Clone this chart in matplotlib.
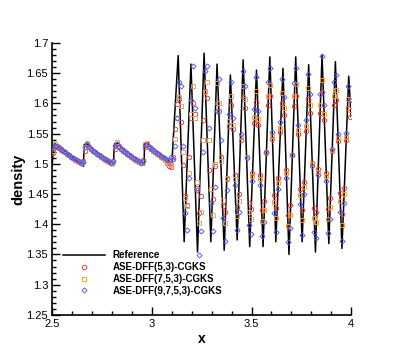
import matplotlib.pyplot as plt
from matplotlib.ticker import MultipleLocator, FuncFormatter

plt.rcParams['font.family'] = ['Liberation Sans', 'DejaVu Sans']

# reference solution: sawtooth corners, then peaks / troughs of the wave train
ref_x = [2.500, 2.506, 2.515, 2.657, 2.659, 2.670, 2.808, 2.810, 2.822,
         2.961, 2.963, 2.975, 3.100,
         3.132, 3.162, 3.196, 3.229, 3.262, 3.296, 3.327, 3.363, 3.394, 3.428,
         3.458, 3.491, 3.525, 3.558, 3.592, 3.622, 3.658, 3.688, 3.722, 3.754,
         3.787, 3.821, 3.854, 3.888, 3.921, 3.954, 3.988, 4.000]
ref_rho = [1.498, 1.532, 1.533, 1.496, 1.531, 1.534, 1.497, 1.532, 1.535,
           1.498, 1.533, 1.535, 1.500,
           1.679, 1.371, 1.665, 1.354, 1.683, 1.371, 1.665, 1.357, 1.647, 1.374,
           1.672, 1.363, 1.655, 1.363, 1.677, 1.371, 1.658, 1.350, 1.677, 1.371,
           1.664, 1.354, 1.680, 1.368, 1.669, 1.360, 1.645, 1.578]

# cell centres
x_cells = [2.505, 2.515, 2.525, 2.535, 2.545, 2.555, 2.565, 2.575, 2.585, 2.595,
           2.605, 2.615, 2.625, 2.635, 2.645, 2.655, 2.665, 2.675, 2.685, 2.695,
           2.705, 2.715, 2.725, 2.735, 2.745, 2.755, 2.765, 2.775, 2.785, 2.795,
           2.805, 2.815, 2.825, 2.835, 2.845, 2.855, 2.865, 2.875, 2.885, 2.895,
           2.905, 2.915, 2.925, 2.935, 2.945, 2.955, 2.965, 2.975, 2.985, 2.995,
           3.005, 3.015, 3.025, 3.035, 3.045, 3.055, 3.065, 3.075, 3.085, 3.095,
           3.105, 3.115, 3.125, 3.135, 3.145, 3.155, 3.165, 3.175, 3.185, 3.195,
           3.205, 3.215, 3.225, 3.235, 3.245, 3.255, 3.265, 3.275, 3.285, 3.295,
           3.305, 3.315, 3.325, 3.335, 3.345, 3.355, 3.365, 3.375, 3.385, 3.395,
           3.405, 3.415, 3.425, 3.435, 3.445, 3.455, 3.465, 3.475, 3.485, 3.495,
           3.505, 3.515, 3.525, 3.535, 3.545, 3.555, 3.565, 3.575, 3.585, 3.595,
           3.605, 3.615, 3.625, 3.635, 3.645, 3.655, 3.665, 3.675, 3.685, 3.695,
           3.705, 3.715, 3.725, 3.735, 3.745, 3.755, 3.765, 3.775, 3.785, 3.795,
           3.805, 3.815, 3.825, 3.835, 3.845, 3.855, 3.865, 3.875, 3.885, 3.895,
           3.905, 3.915, 3.925, 3.935, 3.945, 3.955, 3.965, 3.975, 3.985, 3.995]

rho_53 = [1.518, 1.527, 1.528, 1.526, 1.523, 1.521, 1.519, 1.517, 1.514, 1.512,
          1.509, 1.507, 1.505, 1.503, 1.502, 1.504, 1.522, 1.531, 1.528, 1.525,
          1.522, 1.520, 1.517, 1.515, 1.512, 1.510, 1.508, 1.505, 1.503, 1.502,
          1.505, 1.524, 1.533, 1.529, 1.525, 1.522, 1.520, 1.517, 1.515, 1.512,
          1.510, 1.508, 1.505, 1.503, 1.502, 1.506, 1.528, 1.532, 1.528, 1.525,
          1.522, 1.520, 1.517, 1.515, 1.512, 1.509, 1.506, 1.502, 1.497, 1.494,
          1.512, 1.557, 1.599, 1.608, 1.570, 1.498, 1.447, 1.432, 1.511, 1.575,
          1.600, 1.582, 1.460, 1.418, 1.447, 1.572, 1.620, 1.609, 1.490, 1.459,
          1.441, 1.496, 1.600, 1.587, 1.512, 1.430, 1.420, 1.475, 1.562, 1.598,
          1.557, 1.481, 1.429, 1.450, 1.539, 1.610, 1.593, 1.512, 1.435, 1.426,
          1.485, 1.567, 1.603, 1.565, 1.481, 1.423, 1.439, 1.518, 1.598, 1.613,
          1.541, 1.449, 1.427, 1.477, 1.553, 1.601, 1.581, 1.489, 1.415, 1.432,
          1.514, 1.596, 1.613, 1.549, 1.459, 1.424, 1.470, 1.555, 1.607, 1.584,
          1.502, 1.427, 1.421, 1.492, 1.584, 1.619, 1.572, 1.485, 1.426, 1.443,
          1.522, 1.597, 1.605, 1.538, 1.451, 1.417, 1.460, 1.540, 1.593, 1.577]

rho_753 = [1.522, 1.532, 1.530, 1.527, 1.524, 1.522, 1.519, 1.517, 1.514, 1.512,
           1.509, 1.507, 1.505, 1.503, 1.501, 1.503, 1.528, 1.535, 1.528, 1.525,
           1.522, 1.519, 1.517, 1.514, 1.512, 1.510, 1.507, 1.505, 1.503, 1.501,
           1.503, 1.530, 1.536, 1.528, 1.525, 1.522, 1.519, 1.517, 1.514, 1.512,
           1.510, 1.507, 1.505, 1.503, 1.501, 1.503, 1.533, 1.534, 1.527, 1.525,
           1.522, 1.519, 1.517, 1.514, 1.512, 1.510, 1.507, 1.504, 1.500, 1.498,
           1.508, 1.541, 1.575, 1.610, 1.595, 1.520, 1.443, 1.430, 1.484, 1.582,
           1.628, 1.575, 1.470, 1.402, 1.421, 1.540, 1.619, 1.635, 1.540, 1.459,
           1.415, 1.500, 1.633, 1.601, 1.505, 1.440, 1.402, 1.476, 1.571, 1.613,
           1.565, 1.475, 1.413, 1.438, 1.544, 1.628, 1.608, 1.511, 1.420, 1.409,
           1.480, 1.577, 1.620, 1.574, 1.475, 1.406, 1.424, 1.519, 1.613, 1.631,
           1.546, 1.436, 1.411, 1.469, 1.560, 1.618, 1.593, 1.484, 1.397, 1.416,
           1.514, 1.612, 1.632, 1.556, 1.448, 1.407, 1.462, 1.562, 1.625, 1.597,
           1.500, 1.411, 1.403, 1.487, 1.598, 1.639, 1.583, 1.480, 1.409, 1.429,
           1.523, 1.613, 1.622, 1.543, 1.439, 1.399, 1.450, 1.544, 1.608, 1.589]

rho_9753 = [1.524, 1.530, 1.529, 1.526, 1.524, 1.522, 1.519, 1.517, 1.515, 1.512,
            1.510, 1.508, 1.506, 1.504, 1.502, 1.503, 1.527, 1.532, 1.528, 1.525,
            1.522, 1.520, 1.517, 1.515, 1.513, 1.510, 1.508, 1.506, 1.504, 1.502,
            1.504, 1.529, 1.532, 1.528, 1.525, 1.522, 1.520, 1.517, 1.515, 1.513,
            1.510, 1.508, 1.506, 1.504, 1.502, 1.505, 1.531, 1.531, 1.527, 1.525,
            1.523, 1.520, 1.518, 1.516, 1.513, 1.511, 1.509, 1.507, 1.506, 1.512,
            1.508, 1.530, 1.575, 1.636, 1.628, 1.530, 1.419, 1.390, 1.476, 1.605,
            1.662, 1.592, 1.457, 1.349, 1.389, 1.520, 1.654, 1.662, 1.560, 1.435,
            1.388, 1.462, 1.588, 1.640, 1.540, 1.410, 1.372, 1.457, 1.583, 1.636,
            1.576, 1.465, 1.390, 1.420, 1.550, 1.653, 1.629, 1.510, 1.398, 1.384,
            1.472, 1.590, 1.644, 1.588, 1.465, 1.381, 1.404, 1.520, 1.636, 1.658,
            1.553, 1.418, 1.387, 1.459, 1.570, 1.641, 1.611, 1.476, 1.370, 1.394,
            1.514, 1.634, 1.659, 1.565, 1.433, 1.383, 1.450, 1.573, 1.649, 1.615,
            1.497, 1.387, 1.377, 1.481, 1.616, 1.678, 1.598, 1.472, 1.385, 1.409,
            1.525, 1.635, 1.647, 1.549, 1.421, 1.372, 1.435, 1.551, 1.629, 1.605]

fig = plt.figure(figsize=(3.99, 3.55), dpi=100)
ax = fig.add_axes([0.131, 0.113, 0.749, 0.766])

ax.plot(ref_x, ref_rho, color='black', lw=1.1, label='Reference', zorder=2)
ax.plot(x_cells, rho_53, ls='none', marker='o', ms=3.2, mfc='none',
        mec='#e03a3a', mew=0.65, label='ASE-DFF(5,3)-CGKS', zorder=3)
ax.plot(x_cells, rho_753, ls='none', marker='s', ms=2.6, mfc='none',
        mec='#f4a040', mew=0.65, label='ASE-DFF(7,5,3)-CGKS', zorder=3)
ax.plot(x_cells, rho_9753, ls='none', marker='D', ms=2.6, mfc='none',
        mec='#5555f0', mew=0.65, label='ASE-DFF(9,7,5,3)-CGKS', zorder=3)

ax.set_xlim(2.5, 4.0)
ax.set_ylim(1.25, 1.7)
ax.xaxis.set_major_locator(MultipleLocator(0.5))
ax.xaxis.set_minor_locator(MultipleLocator(0.1))
ax.yaxis.set_major_locator(MultipleLocator(0.05))
ax.yaxis.set_minor_locator(MultipleLocator(0.01))
fmt = FuncFormatter(lambda v, _: f'{v:g}')
ax.xaxis.set_major_formatter(fmt)
ax.yaxis.set_major_formatter(fmt)

ax.spines['top'].set_visible(False)
ax.spines['right'].set_visible(False)
for s in ('left', 'bottom'):
    ax.spines[s].set_linewidth(1.2)
ax.tick_params(which='both', direction='in', top=False, right=False,
               labelsize=8, width=1.0)
ax.tick_params(which='major', length=6, pad=3)
ax.tick_params(which='minor', length=3)

ax.set_xlabel('x', fontsize=10, fontweight='bold', labelpad=2)
ax.set_ylabel('density', fontsize=10.5, fontweight='bold', labelpad=1)

ax.legend(loc='lower left', bbox_to_anchor=(0.035, 0.07), frameon=False,
          prop={'weight': 'bold', 'size': 7}, handlelength=4.35,
          handletextpad=0.8, labelspacing=0.2, borderpad=0, borderaxespad=0,
          numpoints=1)

fig.savefig('out.png', dpi=100)
